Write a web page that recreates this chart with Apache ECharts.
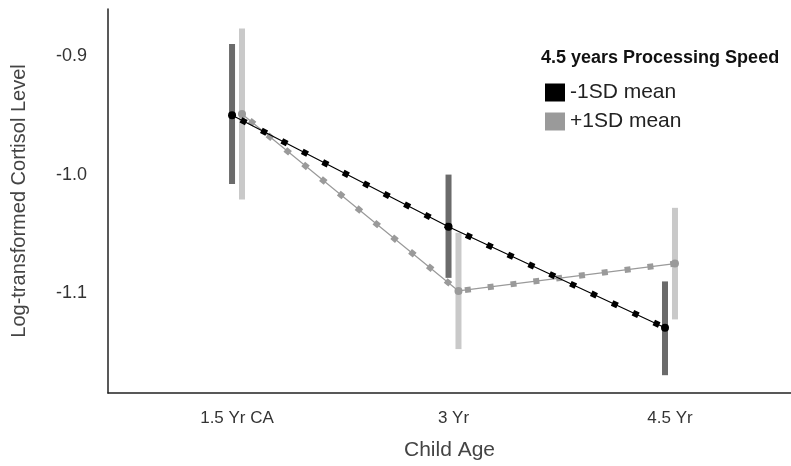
<!DOCTYPE html>
<html>
<head>
<meta charset="utf-8">
<script src="https://cdn.jsdelivr.net/npm/echarts@6/dist/echarts.min.js"></script>
<style>
  html, body { margin: 0; padding: 0; background: #fff; }
  #main { width: 791px; height: 466px; }
</style>
</head>
<body>
<div id="main"></div>
<script>
  // child age categories
  const categories = ['1.5 Yr CA', '3 Yr', '4.5 Yr']
  const yTicks = [-0.9, -1.0, -1.1]

  // -1SD mean group
  const lowMean = [-0.950, -1.044, -1.129]
  const lowUpper = [-0.890, -1.000, -1.090]
  const lowLower = [-1.008, -1.087, -1.169]

  // +1SD mean group
  const highMean = [-0.949, -1.098, -1.075]
  const highUpper = [-0.877, -1.049, -1.028]
  const highLower = [-1.021, -1.147, -1.122]

  const FONT = '"Liberation Sans", Arial, sans-serif'
  const LOW_SHIFT = -0.023
  const HIGH_SHIFT = 0.023

  const lowPts = lowMean.map((v, i) => [i + LOW_SHIFT, v])
  const highPts = highMean.map((v, i) => [i + HIGH_SHIFT, v])
  const lowBars = lowMean.map((v, i) => [i + LOW_SHIFT, lowUpper[i], lowLower[i]])
  const highBars = highMean.map((v, i) => [i + HIGH_SHIFT, highUpper[i], highLower[i]])

  function barRenderer (color) {
    return function (params, api) {
      const top = api.coord([api.value(0), api.value(1)])
      const bot = api.coord([api.value(0), api.value(2)])
      return {
        type: 'rect',
        shape: { x: top[0] - 3, y: top[1], width: 6, height: bot[1] - top[1] },
        style: { fill: color }
      }
    }
  }

  const chart = echarts.init(document.getElementById('main'), null, { renderer: 'canvas' })
  chart.setOption({
    animation: false,
    backgroundColor: '#fff',
    title: {
      text: '4.5 years Processing Speed',
      left: 541,
      top: 49,
      padding: 0,
      textStyle: { fontFamily: FONT, fontSize: 18, fontWeight: 'bold', color: '#111' }
    },
    legend: {
      data: ['-1SD mean', '+1SD mean'],
      orient: 'vertical',
      left: 545,
      top: 82,
      padding: 0,
      itemWidth: 20,
      itemHeight: 18,
      itemGap: 8,
      icon: 'rect',
      textStyle: { fontFamily: FONT, fontSize: 21, color: '#222' }
    },
    grid: { left: 108, right: 0, top: 9, bottom: 72 },
    xAxis: {
      type: 'value',
      min: -0.596,
      max: 2.559,
      name: 'Child Age',
      nameLocation: 'middle',
      nameGap: 47,
      nameTextStyle: { fontFamily: FONT, fontSize: 21, color: '#444' },
      axisLine: { onZero: false, lineStyle: { color: '#222', width: 1.5 } },
      axisTick: { show: false },
      splitLine: { show: false },
      axisLabel: {
        customValues: [0, 1, 2],
        formatter: v => categories[Math.round(v)],
        margin: 17,
        fontFamily: FONT,
        fontSize: 17,
        color: '#333'
      }
    },
    yAxis: {
      type: 'value',
      min: -1.184,
      max: -0.8605,
      name: 'Log-transformed Cortisol Level',
      nameLocation: 'middle',
      nameGap: 79,
      nameTextStyle: { fontFamily: FONT, fontSize: 20, color: '#444' },
      axisLine: { show: true, onZero: false, lineStyle: { color: '#222', width: 1.5 } },
      axisTick: { show: false },
      splitLine: { show: false },
      axisLabel: {
        customValues: yTicks,
        formatter: v => v.toFixed(1),
        margin: 21,
        fontFamily: FONT,
        fontSize: 18,
        color: '#333'
      }
    },
    series: [
      {
        name: 'low bars',
        type: 'custom',
        renderItem: barRenderer('#6b6b6b'),
        encode: { x: 0, y: [1, 2] },
        data: lowBars,
        z: 1
      },
      {
        name: 'high bars',
        type: 'custom',
        renderItem: barRenderer('#c9c9c9'),
        encode: { x: 0, y: [1, 2] },
        data: highBars,
        z: 1
      },
      {
        name: 'high line',
        type: 'line',
        data: highPts,
        symbol: 'circle',
        symbolSize: 8,
        itemStyle: { color: '#9a9a9a' },
        lineStyle: { color: '#9a9a9a', width: 1.2 },
        z: 2
      },
      {
        name: '+1SD mean',
        type: 'line',
        data: highPts,
        symbol: 'none',
        itemStyle: { color: '#9a9a9a' },
        lineStyle: { color: '#9a9a9a', width: 6, type: [6, 17], dashOffset: -10, cap: 'butt' },
        z: 3
      },
      {
        name: 'low line',
        type: 'line',
        data: lowPts,
        symbol: 'circle',
        symbolSize: 8,
        itemStyle: { color: '#000' },
        lineStyle: { color: '#000', width: 1.2 },
        z: 4
      },
      {
        name: '-1SD mean',
        type: 'line',
        data: lowPts,
        symbol: 'none',
        itemStyle: { color: '#000' },
        lineStyle: { color: '#000', width: 6, type: [6, 17], dashOffset: -10, cap: 'butt' },
        z: 5
      }
    ]
  })
</script>
</body>
</html>
